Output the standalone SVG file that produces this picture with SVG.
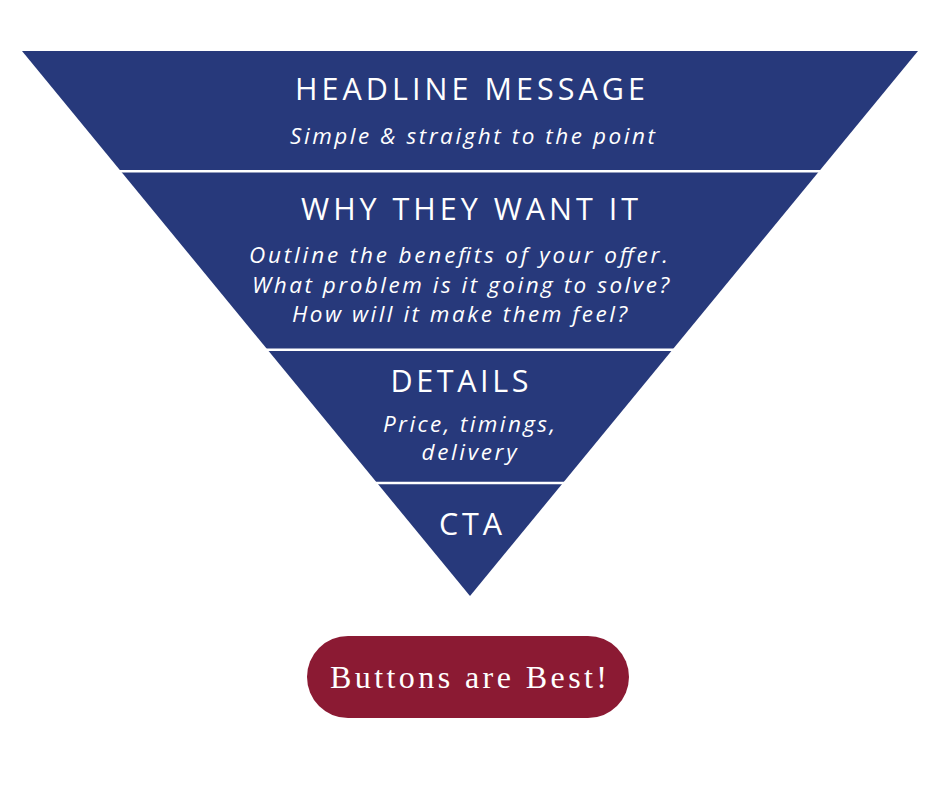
<svg xmlns="http://www.w3.org/2000/svg" width="940" height="788" viewBox="0 0 940 788">
<style>
.band{fill:#27397b}
.sep{stroke:#ffffff;stroke-width:2.6}
.h{font-family:"Open Sans","Liberation Sans",sans-serif;font-size:30.5px;fill:#ffffff;text-anchor:middle}
.s{font-family:"Open Sans","Liberation Sans",sans-serif;font-size:22.5px;font-style:italic;fill:#ffffff;text-anchor:middle}
.b{font-family:"Liberation Serif","Times New Roman",serif;font-size:32px;fill:#ffffff;text-anchor:middle}
</style>
<rect width="940" height="788" fill="#ffffff"/>
<g id="funnel">
<polygon class="band" points="22,51 918,51 470,596"/>
</g>
<g id="connectors">
<line class="sep" x1="100" y1="171.3" x2="840" y2="171.3"/>
<line class="sep" x1="250" y1="349.7" x2="690" y2="349.7"/>
<line class="sep" x1="360" y1="483" x2="580" y2="483"/>
</g>
<g id="headline">
<text class="h" x="470" y="100" textLength="350" lengthAdjust="spacing">HEADLINE MESSAGE</text>
<text class="s" x="472.5" y="144" textLength="365" lengthAdjust="spacing">Simple &amp; straight to the point</text>
</g>
<g id="why">
<text class="h" x="469.5" y="220" textLength="337" lengthAdjust="spacing">WHY THEY WANT IT</text>
<text class="s" x="458.5" y="263" textLength="419" lengthAdjust="spacing">Outline the benefits of your offer.</text>
<text class="s" x="460.5" y="293" textLength="417" lengthAdjust="spacing">What problem is it going to solve?</text>
<text class="s" x="459.5" y="322" textLength="335" lengthAdjust="spacing">How will it make them feel?</text>
</g>
<g id="details">
<text class="h" x="459.5" y="392" textLength="138" lengthAdjust="spacing">DETAILS</text>
<text class="s" x="469" y="432" textLength="172" lengthAdjust="spacing">Price, timings,</text>
<text class="s" x="469" y="460" textLength="95" lengthAdjust="spacing">delivery</text>
</g>
<g id="cta">
<text class="h" x="470.5" y="535" textLength="63" lengthAdjust="spacing">CTA</text>
</g>
<g id="button">
<rect x="307" y="636" width="322" height="82" rx="41" fill="#8b1a33"/>
<text class="b" x="468.5" y="688" textLength="277" lengthAdjust="spacing">Buttons are Best!</text>
</g>
</svg>
